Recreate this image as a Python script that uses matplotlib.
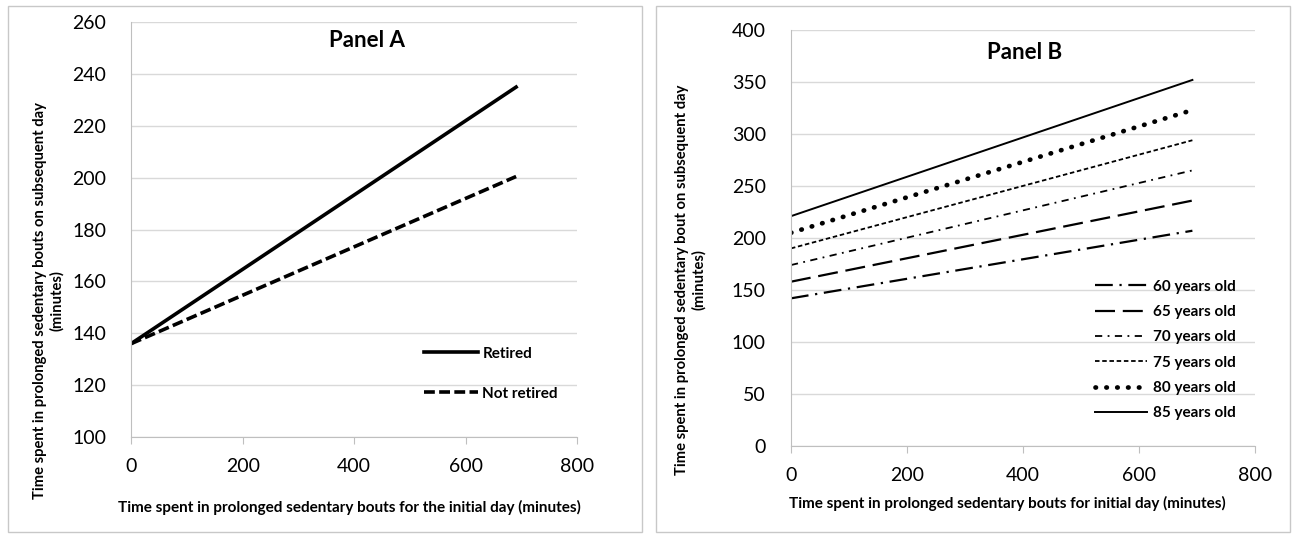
import matplotlib.pyplot as plt
from matplotlib.patches import Rectangle

# Panel A data (start/end of fitted lines)
x_a = [0, 690]
retired = [136, 235]
not_retired = [136, 200.5]

# Panel B data
x_b = [0, 692]
age_labels = ["60 years old", "65 years old", "70 years old",
              "75 years old", "80 years old", "85 years old"]
age_start = [142, 158, 174, 190, 205, 221]
age_end = [207, 236, 265, 294, 323, 352]

plt.rcParams['font.family'] = ['Lato', 'DejaVu Sans']

fig = plt.figure(figsize=(12.96, 5.38), dpi=100)

# panel frames
for x0, w in [(8, 634), (656, 634)]:
    fig.patches.append(Rectangle((x0 / 1296, 6 / 538), w / 1296, 526 / 538,
                                 transform=fig.transFigure, fill=False,
                                 edgecolor="#c8c8c8", linewidth=1))


def style_axes(ax, ymin, ymax, ystep):
    ax.set_xlim(0, 800)
    ax.set_ylim(ymin, ymax)
    ax.set_xticks(range(0, 801, 200))
    ax.set_yticks(range(ymin, ymax + 1, ystep))
    ax.grid(axis="y", color="#d9d9d9", linewidth=1)
    ax.set_axisbelow(True)
    for s in ["top", "right"]:
        ax.spines[s].set_visible(False)
    for s in ["left", "bottom"]:
        ax.spines[s].set_color("#bfbfbf")
    ax.tick_params(axis="y", length=0, pad=18, labelsize=14)
    ax.tick_params(axis="x", direction="out", length=5, color="#bfbfbf",
                   pad=10, labelsize=14)


# ---- Panel A ----
ax1 = fig.add_axes([0.1011, 0.1877, 0.3445, 0.7709])
style_axes(ax1, 100, 260, 20)
ax1.plot(x_a, retired, color="black", linewidth=2.6, label="Retired")
ax1.plot(x_a, not_retired, color="black", linewidth=2.6,
         linestyle=(0, (3, 1.2)), label="Not retired")
ax1.text(0.528, 0.955, "Panel A", transform=ax1.transAxes, ha="center",
         va="center", fontsize=16, fontweight="bold")
ax1.set_xlabel("Time spent in prolonged sedentary bouts for the initial day (minutes)",
               fontsize=11, fontweight="bold")
ax1.set_ylabel("Time spent in prolonged sedentary bouts on subsequent day\n(minutes)",
               fontsize=10.6, fontweight="bold")
ax1.xaxis.set_label_coords(0.49, -0.152)
ax1.yaxis.set_label_coords(-0.15, 0.33)
ax1.legend(loc="upper left", bbox_to_anchor=(0.64, 0.236), frameon=False,
           borderpad=0, handlelength=3.5, handletextpad=0.3, labelspacing=1.7,
           prop={"size": 11, "weight": "bold"})

# ---- Panel B ----
ax2 = fig.add_axes([0.6103, 0.171, 0.3581, 0.7732])
style_axes(ax2, 0, 400, 50)
styles = [
    dict(linestyle=(0, (8, 3, 1, 3)), linewidth=1.6),
    dict(linestyle=(0, (9, 3.5)), linewidth=1.6),
    dict(linestyle=(0, (4, 3, 1, 3)), linewidth=1.3),
    dict(linestyle=(0, (2.5, 1.5)), linewidth=1.3),
    dict(linestyle=(0, (0.1, 2.2)), linewidth=3.4, dash_capstyle="round"),
    dict(linestyle="-", linewidth=1.4),
]
for lab, y0, y1, st in zip(age_labels, age_start, age_end, styles):
    ax2.plot(x_b, [y0, y1], color="black", label=lab, **st)
ax2.text(0.504, 0.945, "Panel B", transform=ax2.transAxes, ha="center",
         va="center", fontsize=16, fontweight="bold")
ax2.set_xlabel("Time spent in prolonged sedentary bouts for initial day (minutes)",
               fontsize=11, fontweight="bold")
ax2.set_ylabel("Time spent in prolonged sedentary bout on subsequent day\n(minutes)",
               fontsize=10.6, fontweight="bold")
ax2.xaxis.set_label_coords(0.466, -0.12)
ax2.yaxis.set_label_coords(-0.183, 0.40)
ax2.legend(loc="upper left", bbox_to_anchor=(0.638, 0.418), frameon=False,
           borderpad=0, handlelength=3.4, handletextpad=0.4, labelspacing=0.74,
           prop={"size": 11, "weight": "bold"})

fig.savefig("out.png", dpi=100)
